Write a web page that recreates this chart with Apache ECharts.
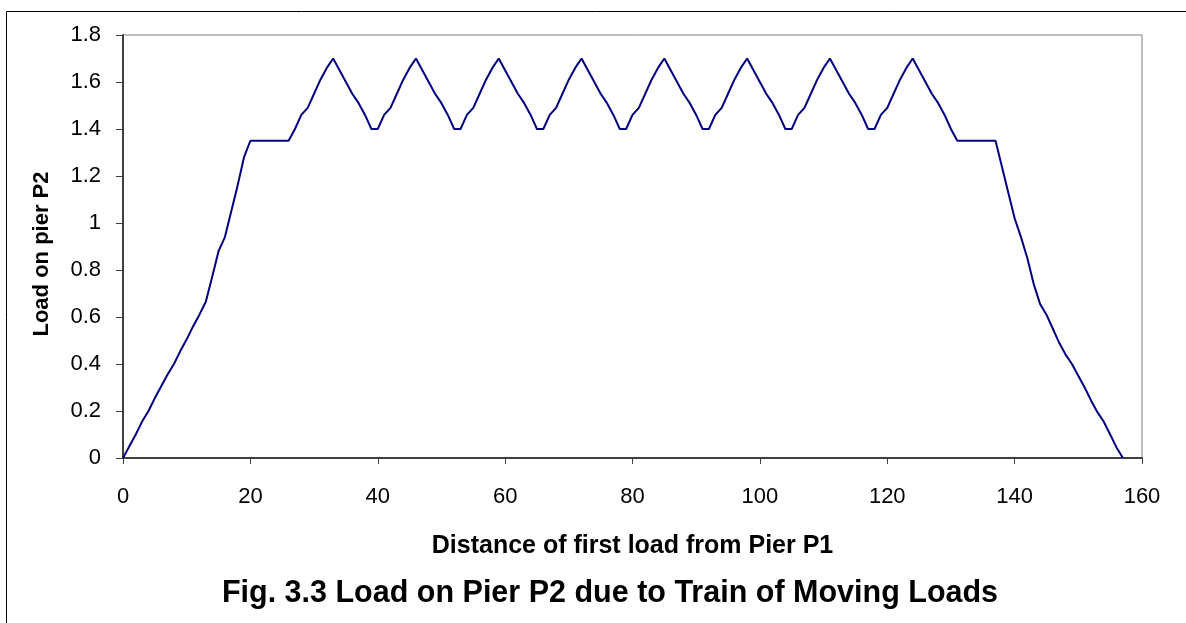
<!DOCTYPE html>
<html>
<head>
<meta charset="utf-8">
<script src="https://cdn.jsdelivr.net/npm/echarts@6/dist/echarts.min.js"></script>
<style>
html,body{margin:0;padding:0;background:#fff;}
#chart{width:1186px;height:623px;}
</style>
</head>
<body>
<div id="chart"></div>
<script>
const titleText = 'Fig. 3.3 Load on Pier P2 due to Train of Moving Loads';
const xAxisTitle = 'Distance of first load from Pier P1';
const yAxisTitle = 'Load on pier P2';

const distance = [
  0,1,2,3,4,5,6,7,8,9,10,11,12,13,14,15,16,17,18,19,
  20,21,22,23,24,25,26,27,28,29,30,31,32,33,34,35,36,37,38,39,
  40,41,42,43,44,45,46,47,48,49,50,51,52,53,54,55,56,57,58,59,
  60,61,62,63,64,65,66,67,68,69,70,71,72,73,74,75,76,77,78,79,
  80,81,82,83,84,85,86,87,88,89,90,91,92,93,94,95,96,97,98,99,
  100,101,102,103,104,105,106,107,108,109,110,111,112,113,114,115,116,117,118,119,
  120,121,122,123,124,125,126,127,128,129,130,131,132,133,134,135,136,137,138,139,
  140,141,142,143,144,145,146,147,148,149,150,151,152,153,154,155,156,157
];

const load = [
  0,0.05,0.1,0.155,0.2,0.255,0.305,0.355,0.4,0.455,
  0.505,0.56,0.61,0.665,0.77,0.88,0.94,1.05,1.16,1.28,
  1.35,1.35,1.35,1.35,1.35,1.35,1.35,
  1.40,1.46,1.49,1.55,1.61,1.66,1.70,1.65,1.60,1.55,1.51,1.46,1.40,
  1.40,1.46,1.49,1.55,1.61,1.66,1.70,1.65,1.60,1.55,1.51,1.46,1.40,
  1.40,1.46,1.49,1.55,1.61,1.66,1.70,1.65,1.60,1.55,1.51,1.46,1.40,
  1.40,1.46,1.49,1.55,1.61,1.66,1.70,1.65,1.60,1.55,1.51,1.46,1.40,
  1.40,1.46,1.49,1.55,1.61,1.66,1.70,1.65,1.60,1.55,1.51,1.46,1.40,
  1.40,1.46,1.49,1.55,1.61,1.66,1.70,1.65,1.60,1.55,1.51,1.46,1.40,
  1.40,1.46,1.49,1.55,1.61,1.66,1.70,1.65,1.60,1.55,1.51,1.46,1.40,
  1.40,1.46,1.49,1.55,1.61,1.66,1.70,1.65,1.60,1.55,1.51,1.46,1.40,
  1.35,1.35,1.35,1.35,1.35,1.35,1.35,
  1.24,1.13,1.02,0.94,0.85,0.74,0.655,0.61,0.55,0.49,
  0.44,0.40,0.35,0.30,0.245,0.195,0.154,0.10,0.045,0
];

const data = distance.map((d, i) => [d, load[i]]);

const chart = echarts.init(document.getElementById('chart'), null, {renderer: 'canvas'});
const font = 'Liberation Sans, Arial, sans-serif';
chart.setOption({
  animation: false,
  backgroundColor: '#fff',
  title: {
    text: titleText,
    left: 605, textAlign: 'center',
    top: 573,
    textStyle: {fontFamily: font, fontSize: 30.5, fontWeight: 'bold', color: '#000'}
  },
  graphic: [{
    type: 'rect', silent: true,
    shape: {x: 6.5, y: 11.5, width: 1300, height: 800},
    style: {fill: 'none', stroke: '#000', lineWidth: 1}
  }, {
    type: 'text', silent: true,
    x: 42, y: 254, rotation: Math.PI / 2,
    style: {text: yAxisTitle, fontFamily: font, fontSize: 22, fontWeight: 'bold',
      fill: '#000', align: 'center', verticalAlign: 'middle'}
  }],
  grid: {
    left: 123, right: 44, top: 35, bottom: 165,
    show: true, borderColor: '#808080', borderWidth: 1, backgroundColor: '#fff'
  },
  xAxis: {
    type: 'value', min: 0, max: 160, interval: 20,
    name: xAxisTitle, nameLocation: 'middle', nameGap: 76,
    nameTextStyle: {fontFamily: font, fontSize: 25, fontWeight: 'bold', color: '#000'},
    axisLine: {show: true, lineStyle: {color: '#404040', width: 2}},
    axisTick: {show: true, length: 6, lineStyle: {color: '#404040', width: 1}},
    axisLabel: {fontFamily: font, fontSize: 22, color: '#000', margin: 28},
    splitLine: {show: false}
  },
  yAxis: {
    type: 'value', min: 0, max: 1.8, interval: 0.2,
    axisLine: {show: true, lineStyle: {color: '#404040', width: 2}},
    axisTick: {show: true, length: 7, lineStyle: {color: '#404040', width: 1}},
    axisLabel: {fontFamily: font, fontSize: 22, color: '#000', margin: 22,
      formatter: v => String(Math.round(v * 10) / 10)},
    splitLine: {show: false}
  },
  series: [{
    type: 'line', data: data, showSymbol: false,
    lineStyle: {color: '#000080', width: 2},
    itemStyle: {color: '#000080'}
  }]
});
</script>
</body>
</html>
